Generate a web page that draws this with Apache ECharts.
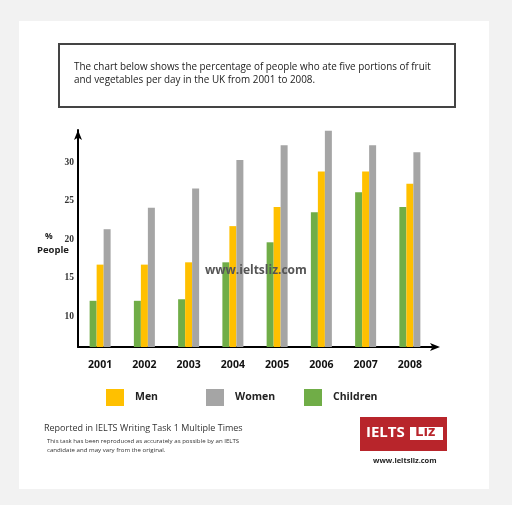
<!DOCTYPE html>
<html>
<head>
<meta charset="utf-8">
<script src="https://cdn.jsdelivr.net/npm/echarts@6/dist/echarts.min.js"></script>
<style>
	html, body { margin: 0; padding: 0; background: #f2f2f2; }
	#chart { width: 512px; height: 505px; }
</style>
</head>
<body>
<div id="chart"></div>
<script>
// data (percent of people)
var years = ['2001', '2002', '2003', '2004', '2005', '2006', '2007', '2008'];
var children = [12, 12, 12.2, 17, 19.6, 23.5, 26.1, 24.2];
var men = [16.7, 16.7, 17, 21.7, 24.2, 28.8, 28.8, 27.2];
var women = [21.3, 24.1, 26.6, 30.3, 32.2, 34.1, 32.2, 31.3];
var yLabels = [10, 15, 20, 25, 30];

var myChart = echarts.init(document.getElementById('chart'));

function legendAt(name, left) {
	return {
		data: [name],
		left: left,
		top: 389,
		itemWidth: 18,
		itemHeight: 17,
		itemGap: 0,
		padding: 0,
		icon: 'rect',
		textStyle: {
			fontFamily: 'Open Sans',
			fontWeight: 'bold',
			fontSize: 10.5,
			color: '#222',
			padding: [0, 0, 0, 6]
		}
	};
}

var option = {
	backgroundColor: '#f2f2f2',
	animation: false,
	grid: {
		left: 78,
		top: 129.9,
		right: 80,
		bottom: 158
	},
	legend: [
		legendAt('Men', 106),
		legendAt('Women', 206),
		legendAt('Children', 304)
	],
	xAxis: {
		type: 'category',
		data: years,
		axisLine: {
			lineStyle: { color: '#000', width: 2 },
			symbol: ['none', 'arrow'],
			symbolSize: [6, 10],
			symbolOffset: [0, 8]
		},
		axisTick: { show: false },
		axisLabel: {
			margin: 13,
			fontFamily: 'Open Sans',
			fontWeight: 'bold',
			fontSize: 10.5,
			color: '#111'
		}
	},
	yAxis: {
		type: 'value',
		min: 6,
		max: 34.2,
		interval: 1,
		axisLine: {
			show: true,
			lineStyle: { color: '#000', width: 2 },
			symbol: ['none', 'arrow'],
			symbolSize: [6, 10]
		},
		axisTick: { show: false },
		splitLine: { show: false },
		axisLabel: {
			margin: 4,
			fontFamily: 'Liberation Serif',
			fontWeight: 'bold',
			fontSize: 9.5,
			color: '#333',
			formatter: function(v) {
				return yLabels.indexOf(v) >= 0 ? String(v) : '';
			}
		}
	},
	series: [
		{
			name: 'Children',
			type: 'bar',
			data: children,
			barWidth: 7,
			barGap: '0%',
			itemStyle: { color: '#70ad47' }
		},
		{
			name: 'Men',
			type: 'bar',
			data: men,
			barWidth: 7,
			barGap: '0%',
			itemStyle: { color: '#ffc000' }
		},
		{
			name: 'Women',
			type: 'bar',
			data: women,
			barWidth: 7,
			barGap: '0%',
			itemStyle: { color: '#a5a5a5' }
		}
	],
	graphic: [
		// white panel
		{
			type: 'rect', z: -10,
			shape: { x: 19, y: 21, width: 470, height: 468 },
			style: { fill: '#fff' }
		},
		// title box
		{
			type: 'rect', z: 1,
			shape: { x: 59, y: 44, width: 396, height: 63 },
			style: { fill: 'none', stroke: '#444', lineWidth: 2 }
		},
		{
			type: 'text', z: 1, left: 74, top: 60,
			style: {
				text: 'The chart below shows the percentage of people who ate five portions of fruit\nand vegetables per day in the UK from 2001 to 2008.',
				font: '9.9px "Open Sans"',
				lineHeight: 13.5,
				fill: '#222'
			}
		},
		// axis name
		{
			type: 'text', z: 1, left: 45, top: 232,
			style: { text: '%', font: 'bold 8.5px "Open Sans"', fill: '#222' }
		},
		{
			type: 'text', z: 1, left: 37, top: 245,
			style: { text: 'People', font: 'bold 9.5px "Open Sans"', fill: '#222' }
		},
		// watermark
		{
			type: 'text', z: 100, left: 205, top: 265,
			style: { text: 'www.ieltsliz.com', font: 'bold 12px "Open Sans"', fill: '#555' }
		},
		// footer text
		{
			type: 'text', z: 1, left: 44, top: 424,
			style: { text: 'Reported in IELTS Writing Task 1 Multiple Times', font: '9px "Open Sans"', fill: '#333' }
		},
		{
			type: 'text', z: 1, left: 47, top: 437,
			style: {
				text: 'This task has been reproduced as accurately as possible by an IELTS\ncandidate and may vary from the original.',
				font: '6.1px "Open Sans"',
				lineHeight: 9,
				fill: '#333'
			}
		},
		// logo
		{
			type: 'rect', z: 1,
			shape: { x: 360, y: 417, width: 87, height: 34 },
			style: { fill: '#b8252b' }
		},
		{
			type: 'text', z: 2, left: 366, top: 425,
			style: { text: 'IELTS', font: 'bold 15px "Open Sans"', fill: '#fff' }
		},
		{
			type: 'rect', z: 2,
			shape: { x: 410, y: 427, width: 33, height: 13 },
			style: { fill: '#fff' }
		},
		{
			type: 'text', z: 3, left: 415, top: 424,
			style: { text: 'Liz', font: 'bold 15px "Open Sans"', fill: '#b8252b' }
		},
		{
			type: 'text', z: 1, left: 373, top: 457,
			style: { text: 'www.ieltsliz.com', font: 'bold 7.5px "Open Sans"', fill: '#222' }
		}
	]
};

myChart.setOption(option);
</script>
</body>
</html>
